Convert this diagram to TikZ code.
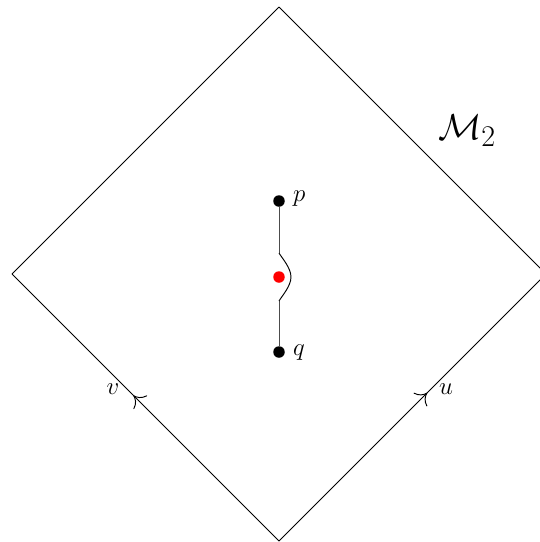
\documentclass[tikz,border=0pt]{standalone}
\usetikzlibrary{decorations.markings,arrows.meta}
\begin{document}
\begin{tikzpicture}[x=1pt,y=-1pt,
  edge/.style={line width=0.95pt},
  dotnode/.style={circle,fill=black,inner sep=0pt,minimum size=11.5pt},
  reddot/.style={circle,fill=red,inner sep=0pt,minimum size=11.5pt},
  lbl/.style={inner sep=0pt,font=\fontsize{24.88}{30}\selectfont},
  arrowmid/.style={postaction={decorate},decoration={markings,mark=at position #1 with {\arrow{To[length=10pt,width=19pt]}}}}]
\useasboundingbox (0,0) rectangle (540,542);
\coordinate (T) at (279,7);
\coordinate (L) at (12,274);
\coordinate (R) at (546,274);
\coordinate (B) at (279,541);
\draw[edge] (T) -- (L);
\draw[edge] (T) -- (R);
\draw[edge,arrowmid=0.545] (B) -- (L);
\draw[edge,arrowmid=0.555] (B) -- (R);
\node[dotnode] (p) at (279,201) {};
\node[dotnode] (q) at (279,352) {};
\node[reddot] (r) at (279,277) {};
\coordinate (w1) at (279,253);
\coordinate (w2) at (279,301);
\draw[edge,black!70] (p) -- (w1);
\draw[edge,black!70] (w2) -- (q);
\draw[edge] (w1) .. controls (282,258) and (291,268) .. (291,277) .. controls (291,286) and (282,296) .. (w2);
\node[lbl,anchor=west] (pl) at (293,199) {$p$};
\node[lbl,anchor=west] (ql) at (293,353) {$q$};
\node[lbl] (vl) at (113,389) {$v$};
\node[lbl] (ul) at (446,389) {$u$};
\node[lbl] (M) at (467,131) {\scalebox{1.45}{$\mathcal{M}_2$}};
\end{tikzpicture}
\end{document}
